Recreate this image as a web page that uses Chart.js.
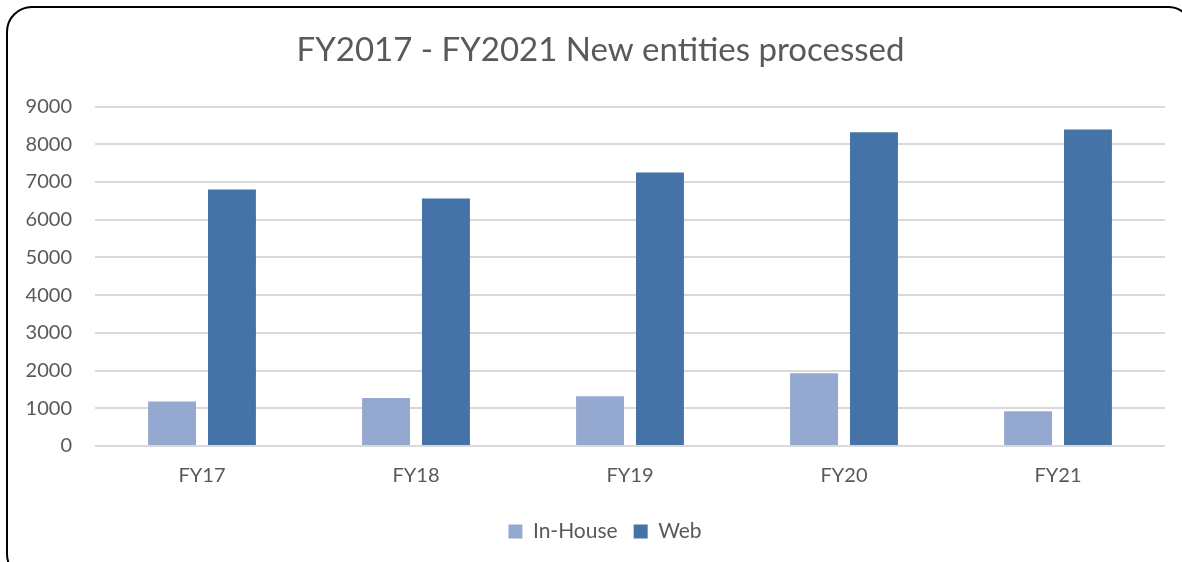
<!DOCTYPE html>
<html>
<head>
<meta charset="utf-8">
<script src="https://cdn.jsdelivr.net/npm/chart.js@4"></script>
<style>
  html, body { margin: 0; padding: 0; background: #fff; }
  body { width: 1182px; height: 562px; position: relative; overflow: hidden; }
  #frame {
    position: absolute; left: 6px; top: 6px; width: 1188px; height: 574px;
    border: 2px solid #000; border-radius: 26px; box-sizing: border-box;
  }
  #wrap { position: absolute; left: 0; top: 0; width: 1182px; height: 562px; }
</style>
</head>
<body>
<div id="frame"></div>
<div id="wrap"><canvas id="barChart"></canvas></div>
<script>
// Data ------------------------------------------------------------------------
const categories = ['FY17', 'FY18', 'FY19', 'FY20', 'FY21'];
const inHouse = [1180, 1270, 1320, 1930, 920];
const web = [6800, 6560, 7250, 8320, 8390];
const yTicks = [0, 1000, 2000, 3000, 4000, 5000, 6000, 7000, 8000, 9000];

const textColor = '#595959';
const fontFamily = 'Lato, "Open Sans", sans-serif';

// Title and legend are centred over the frame, not over the canvas minus the right padding
const blockShift = {
  id: 'blockShift',
  afterLayout(chart) {
    if (chart.titleBlock) {
      chart.titleBlock.left = 36;
    }
    if (chart.legend) {
      chart.legend.left = 45;
    }
  }
};

// Render chart ----------------------------------------------------------------
const ctx = document.getElementById('barChart');

new Chart(ctx, {
  type: 'bar',
  plugins: [blockShift],
  data: {
    labels: categories,
    datasets: [{
      label: 'In-House',
      data: inHouse,
      backgroundColor: '#95A9D0',
      borderWidth: 0
    }, {
      label: 'Web',
      data: web,
      backgroundColor: '#4573A7',
      borderWidth: 0
    }]
  },
  options: {
    responsive: true,
    maintainAspectRatio: false,
    animation: false,
    categoryPercentage: 0.56,
    barPercentage: 0.8,
    layout: {
      padding: { left: 0, right: 17, top: 0, bottom: 10 }
    },
    plugins: {
      tooltip: { enabled: false },
      title: {
        display: true,
        text: 'FY2017 - FY2021 New entities processed',
        color: textColor,
        font: { family: fontFamily, size: 33, weight: 'normal' },
        padding: { top: 31, bottom: 36 }
      },
      legend: {
        position: 'bottom',
        labels: {
          color: textColor,
          font: { family: fontFamily, size: 21 },
          boxWidth: 14,
          boxHeight: 14,
          padding: 16
        }
      }
    },
    scales: {
      x: {
        grid: { display: false, drawTicks: false },
        border: { display: false },
        ticks: {
          color: textColor,
          font: { family: fontFamily, size: 20, lineHeight: 0.75 },
          padding: 22
        }
      },
      y: {
        min: 0,
        max: 9000,
        afterFit: (scale) => { scale.width = 95; },
        afterBuildTicks: (scale) => { scale.ticks = yTicks.map(v => ({ value: v })); },
        grid: { color: '#D9D9D9', lineWidth: 2, drawTicks: false },
        border: { display: false },
        ticks: {
          color: textColor,
          font: { family: fontFamily, size: 20 },
          padding: 23,
          callback: (value) => String(value)
        }
      }
    }
  }
});
</script>
</body>
</html>
